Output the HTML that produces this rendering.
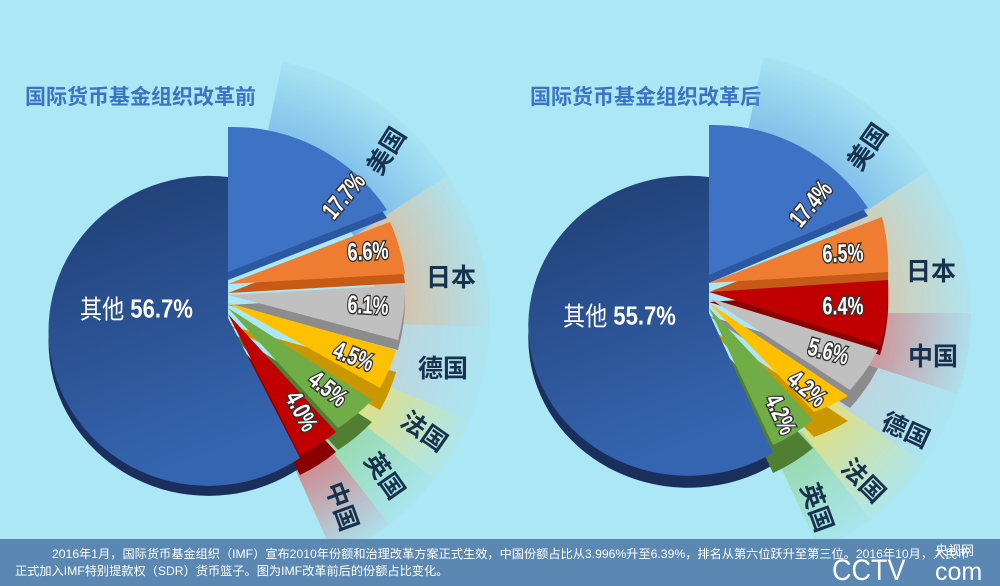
<!DOCTYPE html>
<html><head><meta charset="utf-8"><style>
body{margin:0;width:1000px;height:586px;overflow:hidden;background:#abe7f4;font-family:"Liberation Sans","Noto Sans CJK SC",sans-serif}
svg{position:absolute;left:0;top:0}
.t{font-family:"Liberation Sans","Noto Sans CJK SC",sans-serif;font-weight:bold;fill:#3a74c2;font-size:21px}
.p{font-family:"Liberation Sans",sans-serif;font-weight:bold;fill:#fff;font-size:25px;stroke:#333;stroke-width:3;paint-order:stroke;text-anchor:middle;dominant-baseline:middle}
.c{font-family:"Noto Sans CJK SC",sans-serif;font-weight:bold;fill:#17324f;font-size:25px;text-anchor:middle;dominant-baseline:middle}
.o{font-family:"Liberation Sans","Noto Sans CJK SC",sans-serif;font-weight:bold;fill:#fff;font-size:26px;dominant-baseline:middle}
</style></head><body>
<svg width="1000" height="586" viewBox="0 0 1000 586">
<defs>
<linearGradient id="oth" x1="0" y1="0" x2="0.3" y2="1"><stop offset="0" stop-color="#1f3d72"/><stop offset="1" stop-color="#3565b0"/></linearGradient>
<radialGradient id="gL" gradientUnits="userSpaceOnUse" cx="228" cy="318" r="262"><stop offset="0.55" stop-color="#fff" stop-opacity="0.8"/><stop offset="1" stop-color="#fff" stop-opacity="0.05"/></radialGradient>
<radialGradient id="gR" gradientUnits="userSpaceOnUse" cx="709" cy="313" r="262"><stop offset="0.55" stop-color="#fff" stop-opacity="0.8"/><stop offset="1" stop-color="#fff" stop-opacity="0.05"/></radialGradient>
<mask id="mL"><rect width="1000" height="586" fill="url(#gL)"/></mask>
<mask id="mR"><rect width="1000" height="586" fill="url(#gR)"/></mask>
</defs>

<text class="t" x="25" y="104">国际货币基金组织改革前</text>
<text class="t" x="530" y="104">国际货币基金组织改革后</text>

<g mask="url(#mL)">
<path fill="#5c9de2" d="M259.2,171.3 L282.5,61.8 A262 262 0 0 1 447.8,175.2 L353.9,236.3 A150 150 0 0 0 259.2,171.3Z"/>
<path fill="#f0aa7c" d="M353.9,236.3 L447.8,175.2 A262 262 0 0 1 489.7,327.2 L377.9,323.3 A150 150 0 0 0 353.9,236.3Z"/>
<path fill="#c6ccd3" d="M377.9,323.3 L489.7,327.2 A262 262 0 0 1 469.3,420.4 L366.2,376.7 A150 150 0 0 0 377.9,323.3Z"/>
<path fill="#f2dc5a" d="M366.2,376.7 L469.3,420.4 A262 262 0 0 1 434.5,479.4 L346.2,410.4 A150 150 0 0 0 366.2,376.7Z"/>
<path fill="#8fd38a" d="M346.2,410.4 L434.5,479.4 A262 262 0 0 1 389.4,524.5 L320.4,436.2 A150 150 0 0 0 346.2,410.4Z"/>
<path fill="#e05a5a" d="M320.4,436.2 L389.4,524.5 A262 262 0 0 1 334.6,557.5 L289.1,455.1 A150 150 0 0 0 320.4,436.2Z"/>
</g>
<g mask="url(#mR)">
<path fill="#5c9de2" d="M740.2,166.3 L763.5,56.8 A262 262 0 0 1 928.8,170.2 L834.9,231.3 A150 150 0 0 0 740.2,166.3Z"/>
<path fill="#f0b888" d="M834.9,231.3 L928.8,170.2 A262 262 0 0 1 971,313 L859,313 A150 150 0 0 0 834.9,231.3Z"/>
<path fill="#e06a6a" d="M859,313 L971,313 A262 262 0 0 1 958.2,394 L851.7,359.4 A150 150 0 0 0 859,313Z"/>
<path fill="#c6ccd3" d="M851.7,359.4 L958.2,394 A262 262 0 0 1 923.6,463.4 L831.9,399.1 A150 150 0 0 0 851.7,359.4Z"/>
<path fill="#f2dc5a" d="M831.9,399.1 L923.6,463.4 A262 262 0 0 1 870.4,519.5 L801.4,431.2 A150 150 0 0 0 831.9,399.1Z"/>
<path fill="#8fd38a" d="M801.4,431.2 L870.4,519.5 A262 262 0 0 1 819.8,550.4 L772.5,448.9 A150 150 0 0 0 801.4,431.2Z"/>
</g>

<!-- LEFT: depths -->
<path fill="#1b2f5c" transform="translate(0,10)" d="M228,318 L228,177 A160 155 0 1 0 300,458 Z"/>
<path fill="#2c58a2" transform="translate(0,8)" d="M228,272 L228,127 A185 185 0 0 1 387,210 Z"/>
<path fill="#c75a16" transform="translate(0,9)" d="M228,284 L390,222 A190 190 0 0 1 405,274 Z"/>
<path fill="#8c8c8c" transform="translate(0,10)" d="M228,295 L405,285 A190 190 0 0 1 398,340 Z"/>
<path fill="#c99700" transform="translate(0,22)" d="M228,303 L396,350 A185 185 0 0 1 380,388 Z"/>
<path fill="#507f33" transform="translate(0,22)" d="M228,308 L372,400 A180 180 0 0 1 338,428 Z"/>
<path fill="#8a0000" transform="translate(0,20)" d="M228,314 L336,432 A175 175 0 0 1 300,455 Z"/>
<!-- LEFT: tops -->
<path fill="url(#oth)" d="M228,318 L228,177 A160 155 0 1 0 300,458 Z"/>
<path fill="#3e72c4" d="M228,272 L228,127 A185 185 0 0 1 387,210 Z"/>
<path fill="#ee7d31" d="M228,284 L390,222 A190 190 0 0 1 405,274 Z"/>
<path fill="#c0c0c0" d="M228,295 L405,285 A190 190 0 0 1 398,340 Z"/>
<path fill="#ffc000" d="M228,303 L396,350 A185 185 0 0 1 380,388 Z"/>
<path fill="#70ad47" d="M228,308 L372,400 A180 180 0 0 1 338,428 Z"/>
<path fill="#c00000" d="M228,314 L336,432 A175 175 0 0 1 300,455 Z"/>

<!-- RIGHT: depths -->
<path fill="#1b2f5c" transform="translate(0,12)" d="M709,313 L709,177 A160 150 0 1 0 773,453 Z"/>
<path fill="#2c58a2" transform="translate(0,8)" d="M709,275 L709,125 A185 185 0 0 1 868,208 Z"/>
<path fill="#c75a16" transform="translate(0,9)" d="M709,283 L882,217 A190 190 0 0 1 888,272 Z"/>
<path fill="#8a0000" transform="translate(0,10)" d="M709,292 L888,280 A190 190 0 0 1 880,345 Z"/>
<path fill="#8c8c8c" transform="translate(0,18)" d="M709,298 L878,350 A185 185 0 0 1 850,390 Z"/>
<path fill="#c99700" transform="translate(0,25)" d="M709,303 L848,396 A180 180 0 0 1 814,412 Z"/>
<path fill="#507f33" transform="translate(0,28)" d="M709,308 L813,420 A175 175 0 0 1 773,445 Z"/>
<!-- RIGHT: tops -->
<path fill="url(#oth)" d="M709,313 L709,177 A160 150 0 1 0 773,453 Z"/>
<path fill="#3e72c4" d="M709,275 L709,125 A185 185 0 0 1 868,208 Z"/>
<path fill="#ee7d31" d="M709,283 L882,217 A190 190 0 0 1 888,272 Z"/>
<path fill="#c00000" d="M709,292 L888,280 A190 190 0 0 1 880,345 Z"/>
<path fill="#c0c0c0" d="M709,298 L878,350 A185 185 0 0 1 850,390 Z"/>
<path fill="#ffc000" d="M709,303 L848,396 A180 180 0 0 1 814,412 Z"/>
<path fill="#70ad47" d="M709,308 L813,420 A175 175 0 0 1 773,445 Z"/>

<text class="o" transform="translate(80,311) scale(0.85,1)"><tspan font-family="Noto Sans CJK SC" font-weight="normal">其他</tspan> <tspan>56.7%</tspan></text>
<text class="p" transform="translate(345,197) rotate(-50) scale(0.72,1)">17.7%</text>
<text class="p" transform="translate(368,253) rotate(-3) scale(0.72,1)">6.6%</text>
<text class="p" transform="translate(368,307) rotate(3) scale(0.72,1)">6.1%</text>
<text class="p" transform="translate(353,358) rotate(22) scale(0.72,1)">4.5%</text>
<text class="p" transform="translate(327,390) rotate(38) scale(0.72,1)">4.5%</text>
<text class="p" transform="translate(300,412) rotate(62) scale(0.72,1)">4.0%</text>
<text class="c" transform="translate(388,152) rotate(-58)">美国</text>
<text class="c" transform="translate(451,279)">日本</text>
<text class="c" transform="translate(443,370)">德国</text>
<text class="c" transform="translate(423,433) rotate(35)">法国</text>
<text class="c" transform="translate(383,477) rotate(55)">英国</text>
<text class="c" transform="translate(340,507) rotate(70)">中国</text>

<text class="o" transform="translate(563,318) scale(0.85,1)"><tspan font-family="Noto Sans CJK SC" font-weight="normal">其他</tspan> <tspan>55.7%</tspan></text>
<text class="p" transform="translate(812,205) rotate(-50) scale(0.72,1)">17.4%</text>
<text class="p" transform="translate(843,255) rotate(-2) scale(0.72,1)">6.5%</text>
<text class="p" transform="translate(843,308) scale(0.72,1)">6.4%</text>
<text class="p" transform="translate(828,353) rotate(15) scale(0.72,1)">5.6%</text>
<text class="p" transform="translate(806,390) rotate(40) scale(0.72,1)">4.2%</text>
<text class="p" transform="translate(779,415) rotate(65) scale(0.72,1)">4.2%</text>
<text class="c" transform="translate(869,148) rotate(-55)">美国</text>
<text class="c" transform="translate(931,273)">日本</text>
<text class="c" transform="translate(933,358)">中国</text>
<text class="c" transform="translate(905,432) rotate(25)">德国</text>
<text class="c" transform="translate(862,482) rotate(45)">法国</text>
<text class="c" transform="translate(815,508) rotate(70)">英国</text>

<rect x="0" y="539" width="1000" height="47" fill="#5a88b3"/>
<text x="52" y="558" fill="#fff" font-size="12.2" font-family="Liberation Sans,Noto Sans CJK SC,sans-serif">2016年1月，国际货币基金组织（IMF）宣布2010年份额和治理改革方案正式生效，中国份额占比从3.996%升至6.39%，排名从第六位跃升至第三位。2016年10月，人民币</text>
<text x="15" y="575" fill="#fff" font-size="12.2" font-family="Liberation Sans,Noto Sans CJK SC,sans-serif">正式加入IMF特别提款权（SDR）货币篮子。图为IMF改革前后的份额占比变化。</text>
<text x="935" y="555" fill="#fff" font-size="13" font-family="Noto Sans CJK SC,sans-serif">央视网</text>
<text fill="#fff" font-size="30" font-family="Liberation Sans,sans-serif" transform="translate(832,580) scale(0.9,1)">CCTV</text>
<text x="935" y="580" fill="#fff" font-size="25" font-family="Liberation Sans,sans-serif">com</text>
</svg>
</body></html>
